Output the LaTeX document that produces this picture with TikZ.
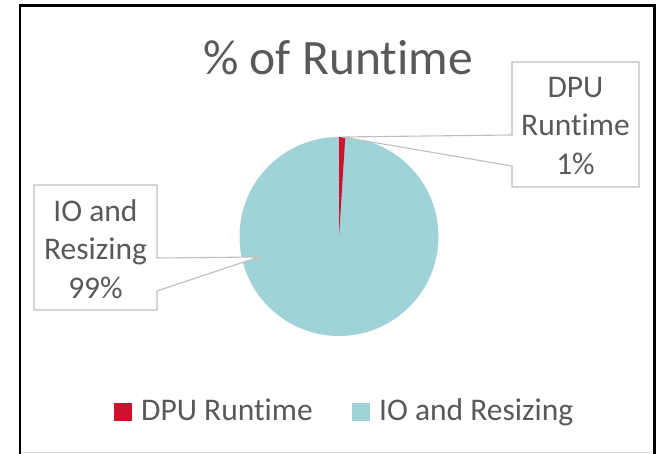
\documentclass[tikz,border=0pt]{standalone}
\usepackage{fontspec}
\setmainfont{Carlito}[Ligatures={NoCommon}]
\definecolor{sliceRed}{HTML}{D0112B}
\definecolor{sliceTeal}{HTML}{A0D3D7}
\definecolor{labelGray}{HTML}{595959}
\definecolor{boxGray}{HTML}{BFBFBF}
\definecolor{chartEdge}{HTML}{D9D9D9}
\tikzset{
  frameline/.style={line width=2.6pt, black},
  callout/.style={draw=boxGray, fill=white, line width=1.1pt, line join=miter},
  calloutText/.style={text=labelGray, align=center, inner sep=0pt,
    font=\fontsize{31.5}{38.5}\selectfont},
  legendText/.style={text=labelGray, anchor=base west, inner sep=0pt,
    font=\fontsize{31.5}{36}\selectfont},
  titleText/.style={text=labelGray, anchor=base, inner sep=0pt,
    font=\fontsize{49.5}{58}\selectfont},
}
\begin{document}
\begin{tikzpicture}[x=1pt,y=1pt]
\useasboundingbox (0,0) rectangle (657,454);

% outer frame
\coordinate (fTL) at (20,448.5);
\coordinate (fTR) at (654.5,448.5);
\coordinate (fBL) at (20,0);
\coordinate (fBR) at (654.5,0);
\draw[chartEdge, line width=1pt] (21,1.5) -- (653,1.5);
\draw[frameline] (fBL) -- (fTL) -- (fTR) -- (fBR);

% title
\node[titleText] (title) at (338,379) {\% of Runtime};

% pie
\coordinate (pc) at (339,217.5);
\fill[sliceTeal] (pc) circle[radius=99.5];
\fill[sliceRed] (pc) -- ++(90:99.5) arc[start angle=90, end angle=86.4, radius=99.5] -- cycle;

% callout for the small slice
\coordinate (dpuTip) at (342,317);
\draw[callout] (512,392) -- (639,392) -- (639,267) -- (512,267) -- (512,288)
  -- (dpuTip) -- (512,319) -- cycle;
\node[calloutText] (dpuLabel) at (575.5,328) {DPU\\Runtime\\1\%};

% callout for the large slice
\coordinate (ioTip) at (259,197);
\draw[callout] (34,269) -- (157,269) -- (157,196) -- (ioTip) -- (157,163)
  -- (157,144) -- (34,144) -- cycle;
\node[calloutText] (ioLabel) at (95.5,205) {IO and\\Resizing\\99\%};

% legend
\fill[sliceRed] (114,33) rectangle (132,51);
\node[legendText] (legDpu) at (141,33) {DPU Runtime};
\fill[sliceTeal] (352,33) rectangle (370,51);
\node[legendText] (legIo) at (379,33) {IO and Resizing};
\end{tikzpicture}
\end{document}
